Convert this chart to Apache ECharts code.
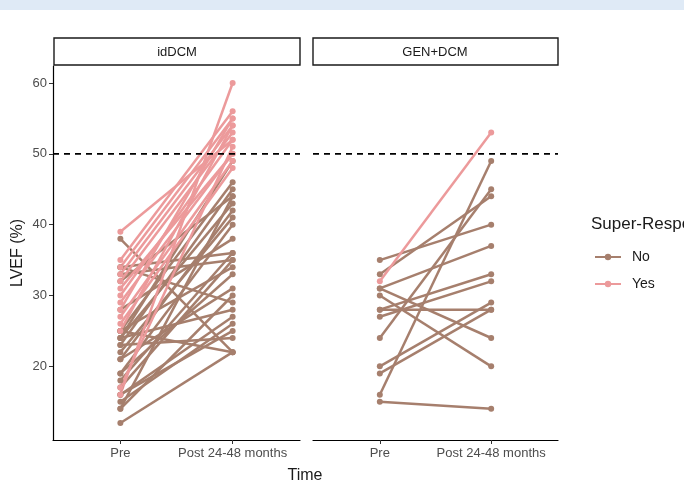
<!DOCTYPE html>
<html>
<head>
<meta charset="utf-8">
<script src="https://cdn.jsdelivr.net/npm/echarts@6/dist/echarts.min.js"></script>
<style>html,body{margin:0;padding:0;background:#fff;}#c{width:684px;height:483px;}</style>
</head>
<body>
<div id="c"></div>
<script>
// ---- data ----
const facets = ['idDCM', 'GEN+DCM'];
const timeLabels = ['Pre', 'Post 24-48 months'];
const groups = ['No', 'Yes'];
const yTicks = [20, 30, 40, 50, 60];
const threshold = 50;

// idDCM, Super-Response = No
const idNoPre  = [38, 34, 34, 32, 28, 25, 25, 25, 24, 24, 23, 23, 22, 21, 21, 19, 19, 24, 17, 16, 15, 14, 14, 12, 18, 16, 33];
const idNoPost = [22, 36, 29, 44, 38, 46, 34, 22, 43, 28, 45, 24, 41, 42, 31, 40, 33, 49, 35, 25, 26, 30, 44, 22, 36, 27, 35];
// idDCM, Super-Response = Yes
const idYesPre  = [39, 35, 34, 33, 32, 31, 30, 29, 28, 27, 26, 25, 16, 17];
const idYesPost = [52, 56, 55, 54, 53, 50, 52, 50, 55, 49, 48, 54, 60, 51];
// GEN+DCM, Super-Response = No
const genNoPre  = [35, 33, 31, 30, 28, 28, 27, 31, 24, 16, 20, 19, 15];
const genNoPost = [40, 44, 24, 20, 33, 28, 32, 37, 45, 49, 29, 28, 14];
// GEN+DCM, Super-Response = Yes
const genYesPre  = [32];
const genYesPost = [53];

const colors = { No: '#A67F6D', Yes: '#EC9A9B' };

// ---- build ----
const series = [];
function addLines(pre, post, group, gi) {
  pre.forEach((v, i) => {
    series.push({
      type: 'line', name: group, xAxisIndex: gi, yAxisIndex: gi,
      data: [[1, v], [2, post[i]]],
      symbol: 'circle', symbolSize: 6, showSymbol: true,
      lineStyle: { width: 2.5, color: colors[group] },
      itemStyle: { color: colors[group] },
      emphasis: { disabled: true }, animation: false, z: 2
    });
  });
}
addLines(idNoPre, idNoPost, 'No', 0);
addLines(idYesPre, idYesPost, 'Yes', 0);
addLines(genNoPre, genNoPost, 'No', 1);
addLines(genYesPre, genYesPost, 'Yes', 1);
[0, 1].forEach(gi => {
  series.push({
    type: 'line', name: 'hline' + gi, xAxisIndex: gi, yAxisIndex: gi,
    data: [[0.4, threshold], [2.6, threshold]], symbol: 'none',
    lineStyle: { type: [6, 5], width: 1.6, color: '#000' },
    emphasis: { disabled: true }, animation: false, z: 5, silent: true
  });
});

const grids = [
  { left: 53, top: 66, width: 247, height: 374 },
  { left: 313, top: 66, width: 245, height: 374 }
];
const xAxes = grids.map((g, i) => ({
  type: 'value', gridIndex: i, min: 0.4, max: 2.6,
  axisLine: { show: true, onZero: false, lineStyle: { color: '#000', width: 1.2 } },
  axisTick: { show: true, customValues: [1, 2], length: 4, lineStyle: { color: '#333' } },
  axisLabel: { customValues: [1, 2], formatter: v => timeLabels[Math.round(v) - 1], color: '#4d4d4d', fontSize: 13, fontFamily: 'Liberation Sans, Arial', margin: 7 },
  splitLine: { show: false }
}));
const yAxes = grids.map((g, i) => ({
  type: 'value', gridIndex: i, min: 9.6, max: 62.4,
  axisLine: { show: i === 0, onZero: false, lineStyle: { color: '#000', width: 1.2 } },
  axisTick: { show: i === 0, customValues: yTicks, length: 4, lineStyle: { color: '#333' } },
  axisLabel: { show: i === 0, customValues: yTicks, color: '#4d4d4d', fontSize: 13, fontFamily: 'Liberation Sans, Arial', margin: 6 },
  splitLine: { show: false }
}));

const chart = echarts.init(document.getElementById('c'), null, { renderer: 'canvas' });
chart.setOption({
  animation: false,
  backgroundColor: '#fff',
  grid: grids,
  xAxis: xAxes,
  yAxis: yAxes,
  legend: {
    data: groups, orient: 'vertical', left: 589, top: 245, itemGap: 13,
    itemWidth: 26, itemHeight: 8,
    textStyle: { fontSize: 14, color: '#1a1a1a', fontFamily: 'Liberation Sans, Arial', padding: [0, 0, 0, 6] },
    selectedMode: false
  },
  graphic: [
    { type: 'rect', left: 0, top: 0, shape: { width: 684, height: 10 }, style: { fill: '#dfeaf6' }, silent: true },
    { type: 'rect', shape: { x: 54, y: 38, width: 246, height: 27 }, style: { fill: '#fff', stroke: '#1a1a1a', lineWidth: 1.4 } },
    { type: 'text', style: { x: 177, y: 52, text: facets[0], align: 'center', verticalAlign: 'middle', fontSize: 13, fill: '#1a1a1a', fontFamily: 'Liberation Sans, Arial' } },
    { type: 'rect', shape: { x: 313, y: 38, width: 245, height: 27 }, style: { fill: '#fff', stroke: '#1a1a1a', lineWidth: 1.4 } },
    { type: 'text', style: { x: 435, y: 52, text: facets[1], align: 'center', verticalAlign: 'middle', fontSize: 13, fill: '#1a1a1a', fontFamily: 'Liberation Sans, Arial' } },
    { type: 'text', style: { x: 591, y: 224, text: 'Super-Response', verticalAlign: 'middle', fontSize: 17, fill: '#1a1a1a', fontFamily: 'Liberation Sans, Arial' } },
    { type: 'text', style: { x: 305, y: 476, text: 'Time', align: 'center', verticalAlign: 'middle', fontSize: 16, fill: '#1a1a1a', fontFamily: 'Liberation Sans, Arial' } },
    { type: 'text', rotation: Math.PI / 2, x: 18, y: 253, style: { x: 0, y: 0, text: 'LVEF (%)', align: 'center', verticalAlign: 'middle', fontSize: 16, fill: '#1a1a1a', fontFamily: 'Liberation Sans, Arial' } }
  ],
  series: series
});
</script>
</body>
</html>
